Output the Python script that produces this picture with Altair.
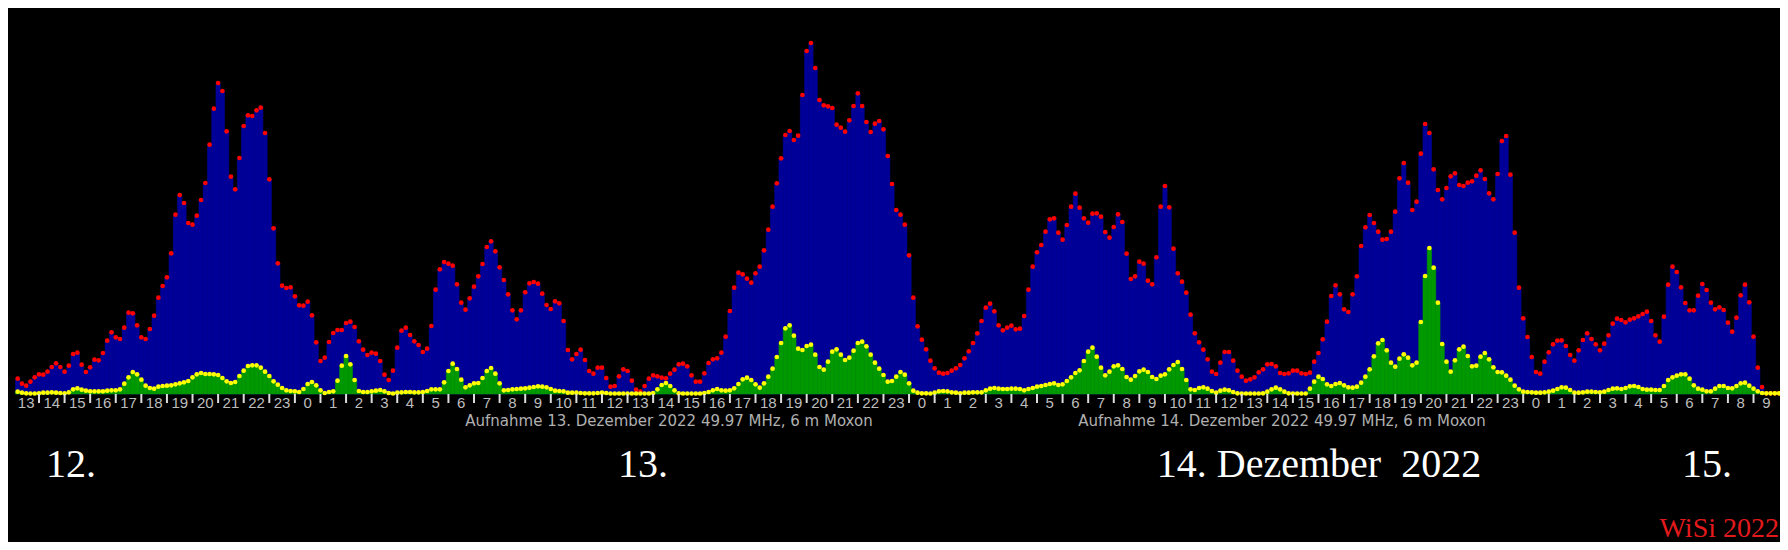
import altair as alt
import pandas as pd

# 10-minute meteor-scatter counts, 12 Dec 2022 13:10 onward (blue = all, green = long echoes)
blue = [
    15.3, 10.3, 8.3, 12.3, 16.7, 19.7, 19.3, 22.3, 27, 30.7,
    27, 22.3, 28.3, 40, 41.3, 29.3, 22, 26.7, 34.3, 33.7,
    41, 53.3, 61.7, 56.7, 55, 66.3, 81.3, 80.7, 68.7, 56.7,
    55, 65, 78.3, 96.3, 108, 116.7, 140.7, 179.3, 199, 191,
    171, 169.3, 178.3, 194, 211, 249.3, 285.3, 311, 303, 262.7,
    217.3, 204.7, 236, 268, 278.7, 278, 283.7, 286.3, 261, 214.7,
    165.7, 130.7, 108.3, 106, 106.7, 97.7, 88.7, 88.3, 92.3, 78.7,
    51.7, 33, 36.3, 52, 61, 64, 64, 71, 72.3, 67,
    52.7, 44.3, 39, 41.3, 40.3, 33, 19.3, 14, 23.3, 46.3,
    63.3, 66.3, 59, 52.7, 49, 42, 45.3, 68, 104.3, 124.7,
    132, 130.3, 128.3, 109.7, 91.3, 84.3, 95.7, 107.3, 117.7, 130,
    147, 152.7, 142.7, 126.7, 114, 99.7, 83.7, 74.7, 83.7, 101.7,
    110.7, 112, 110.3, 100.3, 89, 85, 92.7, 90.7, 73, 44,
    34.7, 40, 44.3, 34, 23, 20.3, 26.3, 26.3, 16, 7.3,
    8, 17.7, 24.7, 23, 13.3, 4.3, 2.3, 8, 15.3, 18.7,
    17.7, 16.3, 15.7, 20.3, 24.3, 29.7, 30.3, 27.7, 18.7, 12.3,
    12.3, 20.7, 31, 34.7, 35.7, 41.3, 57.3, 83, 106.3, 121.3,
    119.7, 115.3, 111.3, 120.7, 127.3, 143.7, 164.3, 187.3, 210.7, 235.7,
    259, 263, 254, 258.3, 299, 343, 351, 326, 294, 288.7,
    287.7, 286, 269.3, 266.3, 262.3, 273.7, 288, 300.7, 288, 272,
    262, 270.3, 273, 264.7, 238, 210, 184, 179.3, 169.3, 138.7,
    96.3, 67.7, 54.3, 44.7, 33.3, 25.7, 21.3, 20.3, 21, 23.3,
    25.7, 29, 35.7, 42.7, 51, 60.7, 73, 86.3, 90.3, 82.7,
    68.7, 63.7, 66.3, 68.3, 64.7, 65.3, 78, 104.3, 127.3, 141.7,
    149, 162.3, 174.7, 175.7, 161.3, 154.3, 169, 187.3, 200.3, 186.3,
    175.7, 171.3, 180.3, 180.7, 177.3, 162, 156.3, 167, 179.7, 172,
    140.3, 115, 117.7, 132.3, 130.3, 113.3, 109.7, 136.7, 187.3, 208,
    186.7, 145.3, 120.7, 112.3, 101.3, 79.3, 60.7, 51.7, 44.3, 34.7,
    22.3, 20, 31.3, 42, 42, 33.3, 23.3, 17.3, 13.3, 14.7,
    16.7, 21.7, 24.7, 29.7, 30, 27.7, 21, 20, 20.7, 23.3,
    23.3, 20.7, 20, 21.3, 32.3, 41, 54.7, 72.3, 98, 108.7,
    99.7, 84.7, 82, 99.7, 117.7, 148, 166.7, 179, 171, 162.3,
    154.3, 155, 162.3, 182.3, 215.7, 231, 211.3, 184, 192.3, 240.3,
    270, 261, 224.7, 204, 194.7, 206, 217.7, 220.7, 209, 208,
    211.3, 212.7, 218.3, 223.7, 215, 200.7, 194.7, 220, 253, 258,
    219.3, 161.3, 106.3, 75.7, 57, 37, 22, 20.3, 32.3, 41.7,
    49.7, 53.3, 53.7, 48, 39, 33.3, 43.7, 54, 60.7, 55,
    49.7, 43.7, 50.3, 58.7, 70.3, 75.3, 74, 71.7, 74.3, 75.7,
    77.7, 80, 82.3, 73, 58.7, 52.3, 77.3, 109.3, 127.3, 122,
    106.7, 91, 83.7, 83.7, 98.3, 110, 104, 91.3, 84.7, 86.7,
    84, 71.3, 62.3, 76.3, 98.7, 109.3, 91.7, 57.3, 26.3, 7,
    0.7, 0.7, 0.7, 0.7, 0.7,
]

green = [
    2.3, 1.3, 0.7, 0.5, 0.5, 0.7, 1.3, 1.3, 1.7, 1.3,
    1, 0.7, 1.7, 4.7, 5.7, 4.3, 3.3, 2.7, 2.7, 2.7,
    2.7, 3.3, 3.7, 3.7, 4.7, 10.3, 16.7, 22, 19.7, 14.3,
    8.3, 6, 5.3, 7.3, 8, 8.3, 8.7, 9.7, 10.7, 11.7,
    13, 16.7, 19.7, 21, 20, 20, 19.7, 19, 16, 12.7,
    11, 12, 18, 23.3, 28, 28.7, 28.7, 26.3, 22.3, 18,
    12.7, 9.3, 6, 3.7, 3, 2.7, 2, 5, 10, 12,
    8.7, 3.7, 1, 2, 2.7, 13.3, 28.3, 38, 29.7, 14,
    3, 2, 2, 2.7, 3.3, 4, 2.7, 1, 0.5, 1.3,
    1.7, 2, 2, 1.7, 1.7, 2, 3, 4.7, 4.7, 4.7,
    11.7, 23, 30.3, 25, 14.3, 6.7, 8.7, 10.7, 11, 16,
    23, 26, 20.3, 10.7, 3.7, 4, 4.7, 5, 5.3, 5.7,
    6.3, 7, 7.7, 7.3, 6.7, 5, 3.3, 3, 2.7, 1.3,
    1.3, 1.3, 1, 0.7, 0.7, 0.7, 1, 1.3, 1, 0.5,
    0.5, 0.5, 0.5, 0.5, 0.5, 0.5, 0.5, 0.5, 0.5, 1,
    4.7, 9, 11, 8, 3.7, 0.7, 0.5, 0.5, 0.5, 0.5,
    0.5, 1, 2, 3.7, 5, 3.7, 3.3, 3.7, 5.7, 10,
    14.7, 16.3, 14, 9.7, 6.3, 10.7, 17.3, 25.3, 37, 51,
    65.7, 68.7, 58.3, 45.3, 44, 48, 49.3, 39.3, 27, 24.3,
    32.3, 42.3, 44.7, 39.3, 34, 36.3, 43.3, 51, 52.3, 47.7,
    39.3, 31.3, 25.3, 19, 12.3, 13, 17.3, 22, 19.3, 10.7,
    3.3, 1.3, 0.7, 0.7, 0.5, 1.3, 2.7, 3, 2.7, 1.7,
    1.3, 0.7, 1.3, 1.3, 1.7, 1.7, 1.7, 3.7, 5.3, 6,
    5.3, 5, 5, 5.3, 5.3, 5, 3.7, 5, 6, 7.3,
    8, 9, 10, 10.7, 9, 9.7, 13, 16.7, 21, 23.7,
    33, 42.3, 46.3, 37.3, 26.3, 18.7, 22.3, 27.7, 28.7, 25,
    17, 14.3, 18, 22.7, 24.3, 22, 17, 15, 18.3, 19.7,
    24.7, 29, 32, 25, 14, 4.7, 4, 6, 6.7, 5.3,
    3, 1.3, 3.3, 4.3, 3.7, 2, 0.7, 0.5, 0.5, 0.5,
    0.5, 0.5, 0.7, 2.3, 4.7, 6.3, 4.7, 2.3, 0.7, 0.5,
    0.5, 0.5, 0.5, 5.3, 12.3, 17.3, 15, 9.7, 8, 10,
    11, 8.7, 6.7, 6.3, 7.3, 11.3, 17.3, 24.7, 37.7, 50.7,
    54, 43.7, 31.3, 27.3, 35.3, 39.7, 36.3, 28.7, 31.3, 72,
    118, 146, 126.3, 91.3, 50, 32.3, 22.3, 33.7, 44.7, 47.3,
    38, 27.7, 28.3, 37.3, 41, 34.7, 26.7, 22, 21.7, 18.3,
    14.3, 8.3, 4.7, 2.3, 2, 1.7, 1.3, 1.3, 1.7, 2.3,
    3.3, 5, 6.7, 6.3, 4, 1.3, 1.3, 1.7, 2.3, 2.3,
    2, 1.7, 2.3, 4, 5.3, 5.7, 5, 6, 7.7, 8,
    7, 5, 4.3, 4.3, 4, 4, 8, 14, 16.7, 18.3,
    19.7, 19.7, 15.3, 8.7, 5.3, 4.3, 2.7, 2.7, 5.3, 8,
    8, 6, 5.7, 8, 10.7, 11.3, 8.3, 5.3, 2.7, 1,
    0.7, 0.7, 0.7, 0.7, 0.7,
]

# hour tick labels (12 Dec 13h ... 15 Dec 9h)
hour_labels = [str(h) for h in list(range(13, 24)) + list(range(24)) + list(range(24)) + list(range(10))]

captions = ["12.", "13.", "14. Dezember\u00a0 2022", "15."]
record_1 = "Aufnahme 13. Dezember 2022 49.97 MHz, 6 m Moxon"
record_2 = "Aufnahme 14. Dezember 2022 49.97 MHz, 6 m Moxon"
signature = "WiSi 2022"

assert len(blue) == len(green)

df = pd.DataFrame({"i": range(len(blue)), "blue": blue, "green": green})
hours_df = pd.DataFrame({"h": range(len(hour_labels)), "label": hour_labels})

xs = alt.Scale(domain=[-0.211, 69.035], nice=False, zero=False)
ys = alt.Scale(domain=[0, 386], nice=False, zero=False)

base = alt.Chart(df).transform_calculate(
    t="(datum.i + 1) / 6",
    x0="(datum.i + 1) / 6 - 1/12",
    x1="(datum.i + 1) / 6 + 1/12",
    zero="0",
)

blue_bars = base.mark_rect(color="#000099", stroke="#000099", strokeWidth=0.6).encode(
    x=alt.X("x0:Q", scale=xs, axis=None),
    x2="x1:Q",
    y=alt.Y("blue:Q", scale=ys, axis=None),
    y2="zero:Q",
)
red_pts = base.mark_circle(color="#ff0000", size=22, opacity=1).encode(
    x=alt.X("t:Q", scale=xs, axis=None),
    y=alt.Y("blue:Q", scale=ys, axis=None),
)
green_bars = base.mark_rect(color="#009900", stroke="#009900", strokeWidth=0.6).encode(
    x=alt.X("x0:Q", scale=xs, axis=None),
    x2="x1:Q",
    y=alt.Y("green:Q", scale=ys, axis=None),
    y2="zero:Q",
)
yellow_pts = base.mark_circle(color="#ffff00", size=22, opacity=1).encode(
    x=alt.X("t:Q", scale=xs, axis=None),
    y=alt.Y("green:Q", scale=ys, axis=None),
)

hours_base = alt.Chart(hours_df).transform_calculate(mid="datum.h + 0.5")
ticks = hours_base.transform_filter("datum.h > 0").mark_rule(color="#dcdcdc", strokeWidth=2).encode(
    x=alt.X("h:Q", scale=xs, axis=None),
    y=alt.value(386),
    y2=alt.value(395),
)
labels = hours_base.mark_text(
    font="Liberation Sans", fontSize=15, color="#bdbdbd", align="center", baseline="alphabetic"
).encode(
    x=alt.X("mid:Q", scale=xs, axis=None),
    y=alt.value(400),
    text="label:N",
)


def caption(text, x, y, size, color, font, align="center"):
    return alt.Chart(alt.Data(values=[{}])).mark_text(
        text=text, font=font, fontSize=size, color=color, align=align, baseline="alphabetic"
    ).encode(x=alt.value(x), y=alt.value(y))


serif = "Liberation Serif"
layers = [
    blue_bars, red_pts, green_bars, yellow_pts, ticks, labels,
    caption(record_1, 661, 418, 15, "#b0b0b0", "DejaVu Sans"),
    caption(record_2, 1274, 418, 15, "#b0b0b0", "DejaVu Sans"),
    caption(captions[0], 63, 469, 40, "white", serif),
    caption(captions[1], 635, 469, 40, "white", serif),
    caption(captions[2], 1311, 469, 40, "white", serif),
    caption(captions[3], 1699, 469, 40, "white", serif),
    caption(signature, 1771, 529, 28, "#e31a1c", serif, align="right"),
]

chart = alt.layer(*layers).properties(
    width=1772,
    height=386,
    background="black",
    padding={"left": 0, "top": 0, "right": 0, "bottom": 148},
    autosize=alt.AutoSizeParams(type="none"),
).configure_view(strokeWidth=0)

chart.save("out.html", embed_options={"renderer": "svg", "actions": False})
